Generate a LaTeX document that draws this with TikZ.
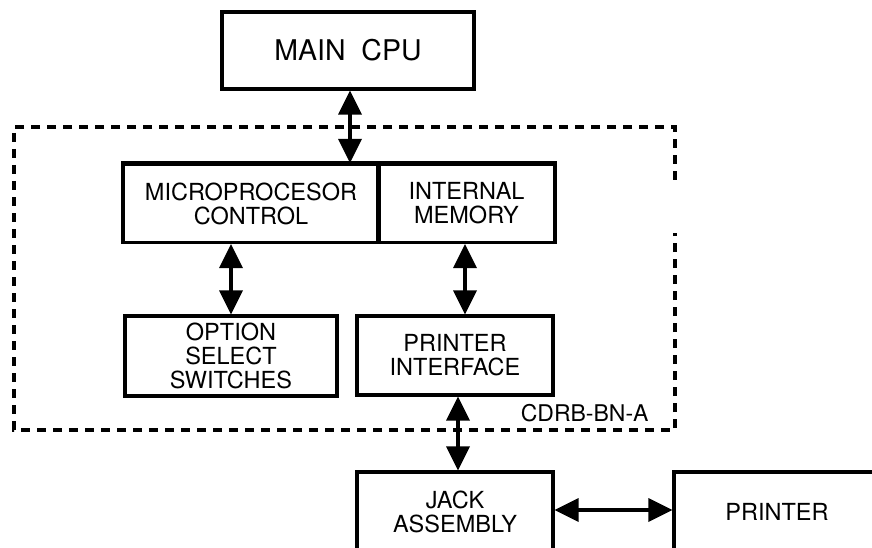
\documentclass[tikz,border=0pt]{standalone}
\usepackage{fontspec}
\setmainfont{TeX Gyre Heros}
\usetikzlibrary{positioning,arrows.meta}
\tikzset{
    >={Triangle[length=24pt,width=23pt]},
    unit/.style = {draw, line width=3.1pt, rectangle, align=center,
                   inner sep=0pt, font=\fontsize{23.5}{24}\selectfont},
    link/.style = {<->, line width=3.6pt},
}

\begin{document}
\begin{tikzpicture}[x=1pt, y=-1pt]
    \useasboundingbox (0,0) rectangle (872,548);
    \clip (0,0) rectangle (872,548);

    % board outline
    \draw [line width=4pt, dash pattern=on 9pt off 7pt]
        (675,180) -- (675,127) -- (14,127) -- (14,430) -- (675,430) -- (675,233);
    \node (board) [anchor=east, font=\fontsize{23}{24}\selectfont] at (652,413) {CDRB-BN-A};

    \node (cpu) [unit, minimum width=252pt, minimum height=77pt,
                 font=\fontsize{28.5}{30}\selectfont] at (348,50.5) {MAIN\ \ CPU};

    \node (micro) [unit, minimum width=256pt, minimum height=78pt] at (251,203.5)
        {MICROPROCESOR\\CONTROL};
    \node (mem) [unit, minimum width=177pt, minimum height=78pt] at (466.5,203.5)
        {INTERNAL\\MEMORY};
    \draw [line width=4.5pt] (micro.north west) -- (mem.north east);

    \node (option) [unit, minimum width=212pt, minimum height=80pt] at (231,356)
        {OPTION\\SELECT\\SWITCHES};
    \node (pif) [unit, minimum width=196pt, minimum height=79pt] at (455,355.5)
        {PRINTER\\INTERFACE};

    \node (jack) [unit, minimum width=196pt, minimum height=80pt] at (455,512)
        {JACK\\ASSEMBLY};
    \node (printer) [unit, minimum width=206pt, minimum height=80pt] at (777,512)
        {PRINTER};

    \draw [link] ([xshift=2pt]cpu.south) -- ([xshift=2pt]cpu.south |- micro.north);
    \draw [link] (option.north |- micro.south) -- (option.north);
    \draw [link] ([xshift=-1.5pt]mem.south) -- ([xshift=-1.5pt]mem.south |- pif.north);
    \draw [link] ([xshift=3pt]pif.south) -- ([xshift=3pt]jack.north);
    \draw [link] ([yshift=2pt]jack.east) -- ([yshift=2pt]printer.west);
\end{tikzpicture}
\end{document}
